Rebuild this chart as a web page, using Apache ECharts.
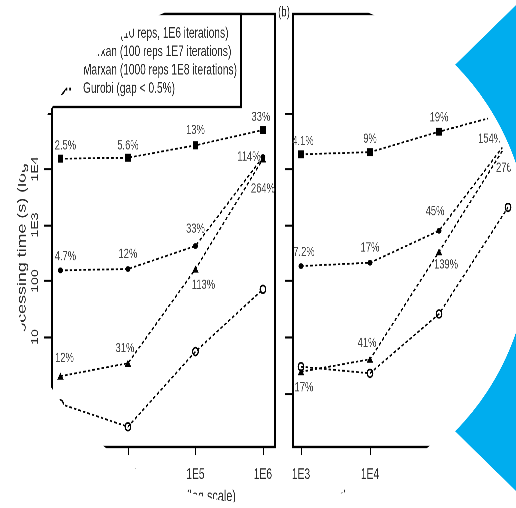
<!DOCTYPE html>
<html><head><meta charset="utf-8">
<script src="https://cdn.jsdelivr.net/npm/echarts@6/dist/echarts.min.js"></script>
<style>
html,body{margin:0;padding:0;background:#fff}
#wrap{position:relative;width:516px;height:508px;overflow:hidden;background:#fff}
#c{width:516px;height:350px;transform:scaleY(1.4514286);transform-origin:0 0}
</style>
</head><body><div id="wrap"><div id="c"></div></div>
<script>
// ---------------- data ----------------
const xValues = [1e3, 1e4, 1e5, 1e6];
const seriesNames = ['Marxan (10 reps, 1E6 iterations)', 'Marxan (100 reps 1E7 iterations)', 'Marxan (1000 reps 1E8 iterations)', 'Gurobi (gap < 0.5%)'];
// panel (a)
const aMarxan10 = [2.0, 3.4, 163, 15100];
const aMarxan100 = [155, 164, 422, 16400];
const aMarxan1000 = [15300, 15900, 26500, 49700];
const aGurobi = [0.64, 0.25, 5.5, 71];
const aMarxan10Gap = ['12%', '31%', '113%', '264%'];
const aMarxan100Gap = ['4.7%', '12%', '33%', '114%'];
const aMarxan1000Gap = ['2.5%', '5.6%', '13%', '33%'];
// panel (b)
const bMarxan10 = [2.4, 4.0, 333, 30500];
const bMarxan100 = [185, 212, 790, 33000];
const bMarxan1000 = [18300, 20000, 46400, 100000];
const bGurobi = [2.95, 2.25, 25.8, 2070];
const bMarxan10Gap = ['17%', '41%', '139%', '276%'];
const bMarxan100Gap = ['7.2%', '17%', '45%', '154%'];
const bMarxan1000Gap = ['4.1%', '9%', '19%', ''];
// axes
const yTickValues = [1, 10, 100, 1e3, 1e4, 1e5];
const yTickLabels = ['1', '10', '100', '1E3', '1E4', '1E5'];
const xTickValues = [1e3, 1e4, 1e5, 1e6];
const xTickLabels = ['1E3', '1E4', '1E5', '1E6'];
const panelLabels = ['(a)', '(b)'];
const yAxisTitle = 'Processing time (s) (log scale)';
const xAxisTitles = ['Planning unit count (log scale)', 'decision variables (log scale)'];

// ---------------- styles ----------------
// the original figure is stretched vertically: the chart is laid out at 516x350 and stretched
const K = 508 / 350;
const FONT = '"Liberation Sans", Arial, sans-serif';
const TEXT = '#2a2a2a';
const sz = { legend: 10.2, tick: 10.3, pct: 9.4, xTitle: 10.8, panel: 9.8, yTick: 9.7, yTitle: 12.3 };

const grids = [
  { left: 52, top: 14 / K, width: 223, height: 433 / K },
  { left: 293, top: 14 / K, width: 232, height: 433 / K }
];
const xRanges = [[750, 1.51e6], [766, 1.762e6]];
const yRange = [0.1086, 5.86e6];

// label offsets in picture pixels (dx, dy)
const labelOffsets = [
  { m10: [[4, -18], [-3, -15], [8, 16], [0, 30]], m100: [[5, -14], [0, -15], [0, -17], [-14, 0]], m1000: [[5, -13], [0, -12], [0, -15], [-2, -13]] },
  { m10: [[3, 16], [-3, -16], [7, 13], [0, 26]], m100: [[3, -14], [0, -15], [-4, -19], [-18, -1]], m1000: [[2, -13], [0, -13], [0, -14], [0, -14]] }
];
const symbolStyles = {
  m10: { symbol: 'triangle', symbolSize: [6.5, 4.8], itemStyle: { color: '#000' } },
  m100: { symbol: 'circle', symbolSize: [5, 4], itemStyle: { color: '#000' } },
  m1000: { symbol: 'rect', symbolSize: [5.5, 5.5], itemStyle: { color: '#000' } },
  gurobi: { symbol: 'circle', symbolSize: [5.6, 5.4], itemStyle: { color: 'rgba(0,0,0,0)', borderColor: '#000', borderWidth: 1.2 } }
};
const dash = { color: '#000', width: 1.2, type: [2.6, 2] };

function nearestLabel(v, vals, labels) {
  let best = 0, d = Infinity;
  vals.forEach((t, i) => { const e = Math.abs(Math.log10(v) - Math.log10(t)); if (e < d) { d = e; best = i; } });
  return d < 0.01 ? labels[best] : '';
}

function makeSeries(panel, key, name, ys, gaps) {
  const st = symbolStyles[key];
  const offs = gaps ? labelOffsets[panel][key] : null;
  return {
    type: 'line', name, xAxisIndex: panel, yAxisIndex: panel,
    symbol: st.symbol, symbolSize: st.symbolSize, showSymbol: true, showAllSymbol: true,
    itemStyle: st.itemStyle, lineStyle: dash, z: 2,
    label: gaps ? { show: true, position: 'inside', color: '#444', fontFamily: FONT, fontSize: sz.pct,
      formatter: p => gaps[p.dataIndex] } : { show: false },
    data: xValues.map((x, i) => gaps
      ? { value: [x, ys[i]], label: { offset: [offs[i][0], offs[i][1] / K] } }
      : { value: [x, ys[i]] })
  };
}

const series = [
  makeSeries(0, 'm10', seriesNames[0], aMarxan10, aMarxan10Gap),
  makeSeries(0, 'm100', seriesNames[1], aMarxan100, aMarxan100Gap),
  makeSeries(0, 'm1000', seriesNames[2], aMarxan1000, aMarxan1000Gap),
  makeSeries(0, 'gurobi', seriesNames[3], aGurobi, null),
  makeSeries(1, 'm10', seriesNames[0], bMarxan10, bMarxan10Gap),
  makeSeries(1, 'm100', seriesNames[1], bMarxan100, bMarxan100Gap),
  makeSeries(1, 'm1000', seriesNames[2], bMarxan1000, bMarxan1000Gap),
  makeSeries(1, 'gurobi', seriesNames[3], bGurobi, null)
];

const xAxes = [0, 1].map(i => ({
  type: 'log', logBase: 10, gridIndex: i, min: xRanges[i][0], max: xRanges[i][1],
  axisLine: { show: false }, splitLine: { show: false }, minorTick: { show: false },
  axisTick: { show: true, inside: false, length: 5.5, customValues: xTickValues, lineStyle: { color: '#000', width: 1.4 } },
  axisLabel: { show: true, customValues: xTickValues, formatter: v => nearestLabel(v, xTickValues, xTickLabels),
    margin: 475 / K - 447 / K - sz.tick / 2, color: TEXT, fontFamily: FONT, fontSize: sz.tick },
  name: xAxisTitles[i], nameLocation: 'middle', nameGap: 497 / K - 447 / K - sz.xTitle / 2,
  nameTextStyle: { color: TEXT, fontFamily: FONT, fontSize: sz.xTitle }
}));
const yAxes = [0, 1].map(i => ({
  type: 'log', logBase: 10, gridIndex: i, min: yRange[0], max: yRange[1],
  axisLine: { show: false }, splitLine: { show: false }, minorTick: { show: false },
  axisTick: { show: true, inside: false, length: 8, customValues: yTickValues, lineStyle: { color: '#000', width: 1.4 } },
  axisLabel: { show: i === 0, customValues: yTickValues, rotate: 90, formatter: v => nearestLabel(v, yTickValues, yTickLabels),
    margin: 16.5 - sz.yTick / 2, color: TEXT, fontFamily: FONT, fontSize: sz.yTick },
  name: i === 0 ? yAxisTitle : '', nameLocation: 'middle', nameGap: 30 - sz.yTitle / 2,
  nameTextStyle: { color: TEXT, fontFamily: FONT, fontSize: sz.yTitle }
}));

// round picture frame and the blue decoration outside it
const CLIP = { cx: 266.5, cy: 248, r: 256.5 };
const BLUE = { cx: 268, cy: 248, r: 262, a: 0.775 };
const option = {
  animation: false,
  backgroundColor: '#fff',
  title: [
    { text: panelLabels[0], left: 34, top: 14 / K - sz.panel * 0.6, padding: 0, textStyle: { fontFamily: FONT, fontSize: sz.panel, fontWeight: 'normal', color: TEXT } },
    { text: panelLabels[1], left: 278, top: 14 / K - sz.panel * 0.6, padding: 0, textStyle: { fontFamily: FONT, fontSize: sz.panel, fontWeight: 'normal', color: TEXT } }
  ],
  legend: {
    data: seriesNames, orient: 'vertical', left: 50, top: 33.5 / K - 5.5, padding: 0,
    itemWidth: 20, itemHeight: 8, itemGap: 18.5 / K - 11, selectedMode: false, z: 5,
    textStyle: { fontFamily: FONT, fontSize: sz.legend, color: TEXT, padding: [0, 0, 0, 7], lineHeight: 11 }
  },
  grid: grids.map(g => Object.assign({ show: true, borderColor: '#000', borderWidth: 1.6, backgroundColor: 'transparent',
    containLabel: false, outerBoundsMode: 'none' }, g)),
  xAxis: xAxes,
  yAxis: yAxes,
  series,
  graphic: [
    { type: 'rect', z: 3, shape: { x: 52, y: 14 / K, width: 189, height: 93 / K }, style: { fill: '#fff', stroke: '#000', lineWidth: 1.6 } },
    { type: 'ring', z: 50, silent: true, x: CLIP.cx, y: CLIP.cy / K, scaleX: 1, scaleY: 1 / K,
      shape: { cx: 0, cy: 0, r: 900, r0: CLIP.r }, style: { fill: '#fff' } },
    { type: 'sector', z: 51, silent: true, x: BLUE.cx, y: BLUE.cy / K, scaleX: 1, scaleY: 1 / K,
      shape: { cx: 0, cy: 0, r: 900, r0: BLUE.r, startAngle: -BLUE.a, endAngle: BLUE.a, clockwise: true }, style: { fill: '#00ADEE' } }
  ]
};
const chart = echarts.init(document.getElementById('c'), null, { renderer: 'canvas', devicePixelRatio: 3 });
chart.setOption(option);
</script></body></html>
